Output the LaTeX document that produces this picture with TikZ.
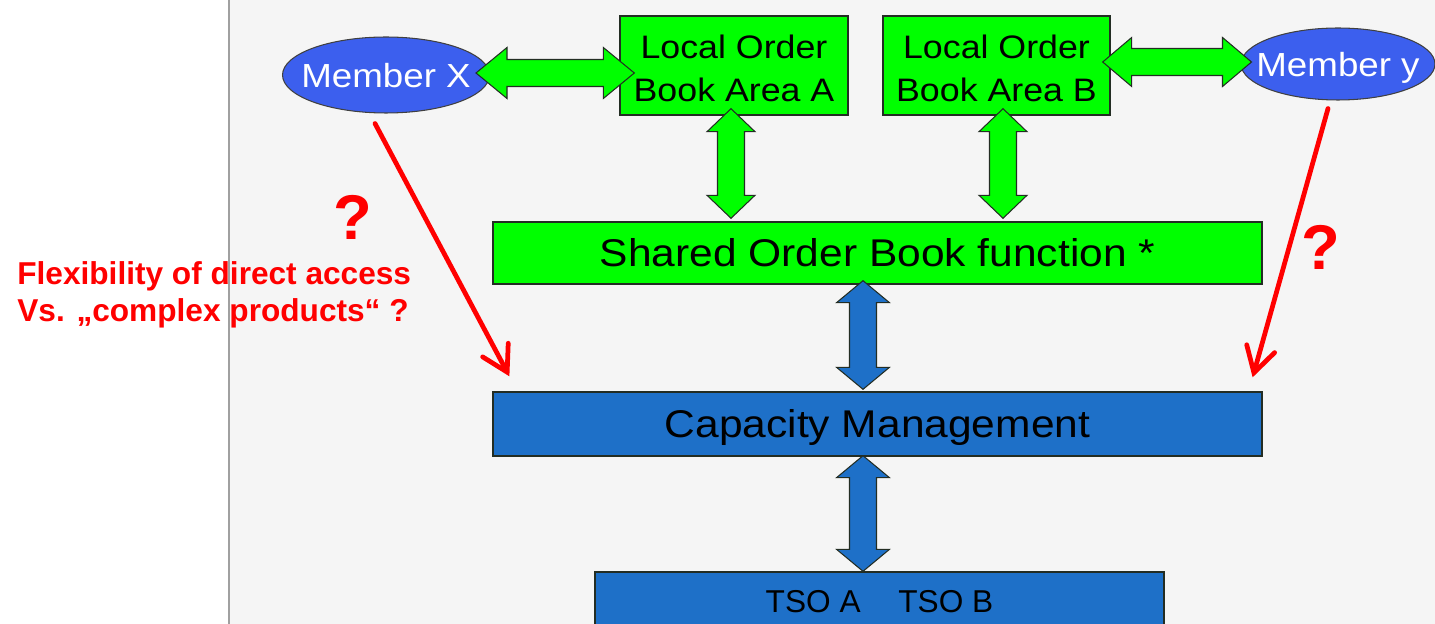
\documentclass[tikz,border=0pt]{standalone}
\usepackage{fontspec}
\setmainfont{Liberation Sans}
\newfontfamily\widesans[FakeStretch=1.1]{Liberation Sans}
\usetikzlibrary{calc,shapes.geometric,arrows.meta}
\definecolor{gfill}{RGB}{0,255,0}
\definecolor{bfill}{RGB}{30,112,200}
\definecolor{efill}{RGB}{60,95,238}
\definecolor{edgec}{RGB}{35,45,35}
\definecolor{bgc}{RGB}{245,245,245}
\definecolor{sepc}{RGB}{160,160,160}
% #1 style, #2 tip 1, #3 tip 2, #4 shaft half width, #5 head half width, #6 head length
\newcommand\dblarrow[6]{%
  \draw[#1] (#2) -- ($(#2)!#6!(#3)!#5!90:(#3)$) -- ($(#2)!#6!(#3)!#4!90:(#3)$)
    -- ($(#3)!#6!(#2)!#4!-90:(#2)$) -- ($(#3)!#6!(#2)!#5!-90:(#2)$) -- (#3)
    -- ($(#3)!#6!(#2)!#5!90:(#2)$) -- ($(#3)!#6!(#2)!#4!90:(#2)$)
    -- ($(#2)!#6!(#3)!#4!-90:(#3)$) -- ($(#2)!#6!(#3)!#5!-90:(#3)$) -- cycle;}
\tikzset{
  gbox/.style={rectangle, draw=edgec, fill=gfill, line width=0.8pt, inner sep=0pt, align=center},
  bbox/.style={rectangle, draw=edgec, fill=bfill, line width=0.8pt, inner sep=0pt, align=center},
  member/.style={ellipse, draw=black!75, fill=efill, line width=0.6pt, inner sep=0pt, text=white,
    font=\widesans\fontsize{19}{22}\selectfont, text height=13.7pt, text depth=0pt},
  garrow/.style={draw=edgec, fill=gfill, line width=0.6pt, line join=miter},
  barrow/.style={draw=edgec, fill=bfill, line width=0.6pt, line join=miter},
  redarrow/.style={draw=red, line width=2.7pt, line cap=round,
    -{Straight Barb[length=0.5cm, width=0.58cm, line cap=round]}},
  redtext/.style={text=red, inner sep=0pt, font=\bfseries\fontsize{18}{21}\selectfont},
  qmark/.style={text=red, inner sep=0pt, font=\bfseries\fontsize{36}{40}\selectfont}
}
\begin{document}
\begin{tikzpicture}[x=0.02cm, y=-0.02cm]
\useasboundingbox (0,0) rectangle (1435,624);
\clip (0,0) rectangle (1435,624);
\fill[white] (0,0) rectangle (1435,624);
\fill[bgc] (230,0) rectangle (1435,624);
% red annotation text
\node[redtext, anchor=base west] (flex1) at (17,285) {Flexibility of direct access};
\node[redtext, anchor=base west] (flex2) at (17,322) {Vs. „complex products“ ?};
\draw[sepc, line width=1.7pt] (229,0) -- (229,624);
% nodes
\node[member, minimum width=4.14cm, minimum height=1.52cm] (mx) at (386,75) {\makebox[0pt]{Member X}};
\node[member, minimum width=3.88cm, minimum height=1.44cm] (my) at (1338,64) {\makebox[0pt]{Member y}};
\node[gbox, minimum width=4.56cm, minimum height=1.98cm,
  font=\widesans\fontsize{18.5}{24.5}\selectfont] (A) at (734,65.5) {\rule{0pt}{16.8pt}Local Order\\Book Area A};
\node[gbox, minimum width=4.54cm, minimum height=1.98cm,
  font=\widesans\fontsize{18.5}{24.5}\selectfont] (B) at (996.5,65.5) {\rule{0pt}{16.8pt}Local Order\\Book Area B};
\node[gbox, minimum width=15.38cm, minimum height=1.24cm,
  font=\widesans\fontsize{22}{26}\selectfont, text height=15.8pt, text depth=0pt] (sob) at (877.5,253) {Shared Order Book function *};
\node[bbox, minimum width=15.38cm, minimum height=1.28cm,
  font=\widesans\fontsize{22}{26}\selectfont, text height=15.8pt, text depth=0pt] (cm) at (877.5,424) {Capacity Management};
\node[bbox, minimum width=11.38cm, minimum height=1.16cm,
  font=\fontsize{18}{20}\selectfont, text height=12.9pt, text depth=0pt] (tso) at (879.5,601) {TSO~A\hspace{21.5pt}TSO~B};
% connector end points
\coordinate (xa1) at ($(mx.east)+(-14,-2)$);
\coordinate (xa2) at ($(A.west)+(15,7.5)$);
\coordinate (by1) at ($(B.east)+(-8,-3.5)$);
\coordinate (by2) at ($(my.west)+(11,-2)$);
\coordinate (as1) at ($(A.south)+(-3,-7)$);
\coordinate (as2) at ($(A.south |- sob.north)+(-3,-3)$);
\coordinate (bs1) at ($(B.south)+(6.5,-7)$);
\coordinate (bs2) at ($(B.south |- sob.north)+(6.5,-3)$);
\coordinate (sc1) at ($(sob.south)+(-14.5,-4)$);
\coordinate (sc2) at ($(cm.north)+(-14.5,-2)$);
\coordinate (ct1) at ($(cm.south)+(-14.5,-1)$);
\coordinate (ct2) at ($(tso.north)+(-16.5,0)$);
\coordinate (rx1) at ($(mx.south)+(-11,10)$);
\coordinate (rx2) at ($(cm.north west)+(17,-15)$);
\coordinate (ry1) at ($(my.south)+(-10,8)$);
\coordinate (ry2) at ($(cm.north east)+(-10,-14)$);
% block arrows
\dblarrow{garrow}{xa1}{xa2}{0.27cm}{0.51cm}{0.62cm}
\dblarrow{garrow}{by1}{by2}{0.27cm}{0.49cm}{0.58cm}
\dblarrow{garrow}{as1}{as2}{0.27cm}{0.48cm}{0.46cm}
\dblarrow{garrow}{bs1}{bs2}{0.27cm}{0.48cm}{0.46cm}
\dblarrow{barrow}{sc1}{sc2}{0.27cm}{0.53cm}{0.44cm}
\dblarrow{barrow}{ct1}{ct2}{0.27cm}{0.53cm}{0.44cm}
% red arrows and question marks
\draw[redarrow] (rx1) -- (rx2);
\draw[redarrow] (ry1) -- (ry2);
\node[qmark, anchor=base] (q1) at (353,240) {?};
\node[qmark, anchor=base] (q2) at (1321,270) {?};
\end{tikzpicture}
\end{document}
